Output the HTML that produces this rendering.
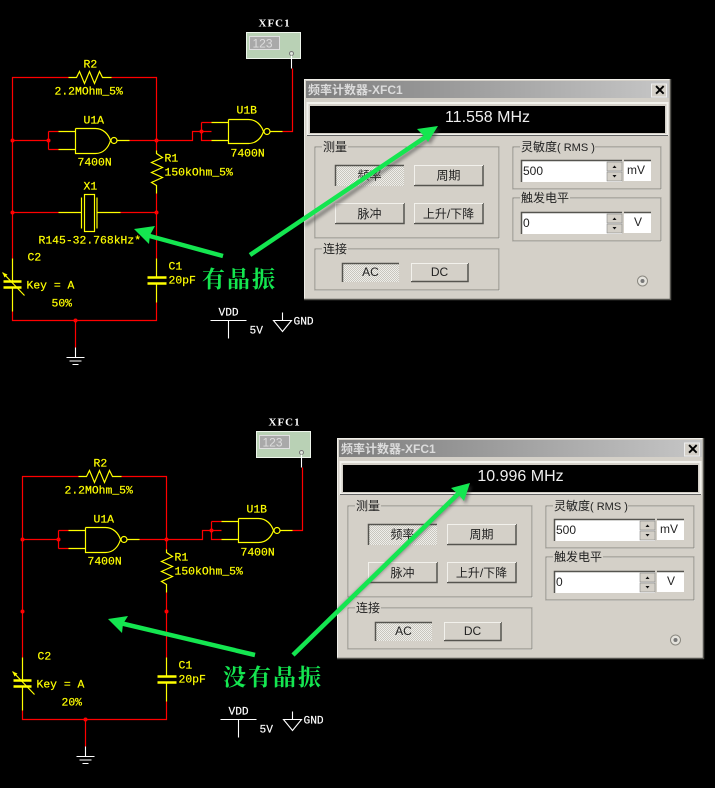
<!DOCTYPE html>
<html><head><meta charset="utf-8"><style>
html,body{margin:0;padding:0;background:#000;width:715px;height:788px;overflow:hidden}
svg{display:block}
.y{font:11.4px "Liberation Mono","Noto Sans CJK SC",monospace;fill:#ffff00;stroke:#ffff00;stroke-width:.2}
.w{font:11.2px "Liberation Mono",monospace;fill:#fff;stroke:#fff;stroke-width:.15}
.xf{font:bold 11px "Liberation Serif",serif;fill:#fff;letter-spacing:1px}
.r{fill:none;stroke:#ff0000;stroke-width:1.2}
.l{fill:none;stroke:#ffff00;stroke-width:1.2}
.lw{fill:none;stroke:#ffff00;stroke-width:2.4}
.wh{fill:none;stroke:#fff;stroke-width:1.1}
.p{font:12px "Liberation Sans","Noto Sans CJK SC",sans-serif;fill:#222}
.pb{font:12px "Liberation Sans","Noto Sans CJK SC",sans-serif;fill:#222}
.t{font:bold 12px "Liberation Sans","Noto Sans CJK SC",sans-serif;fill:#dcdcdc}
.cn{font:bold 23px "Noto Serif CJK SC","Liberation Serif",serif;fill:#14e650;letter-spacing:2px}
</style></head><body>
<svg width="715" height="788" viewBox="0 0 715 788" xmlns="http://www.w3.org/2000/svg">
<defs>
<linearGradient id="tb" x1="0" x2="1" y1="0" y2="0"><stop offset="0" stop-color="#7e7e7e"/><stop offset="1" stop-color="#c6c6c6"/></linearGradient>
<pattern id="dt" width="2" height="2" patternUnits="userSpaceOnUse"><rect width="2" height="2" fill="#efeeea"/><rect width="1" height="1" fill="#c8c6be"/><rect x="1" y="1" width="1" height="1" fill="#c8c6be"/></pattern>
<filter id="bl" x="-20%" y="-20%" width="140%" height="140%"><feGaussianBlur stdDeviation="1.5"/></filter>
</defs>
<rect width="715" height="788" fill="#000"/>

<!-- TOP CIRCUIT -->
<g transform="translate(.5,.5)">
<path class="r" d="M68 77H12V258M12 311V320H156V302M156 258V193M111 77H156V150M12 140H48M48 131V149M48 131H58M48 149H58M129 140H156H192V131H211M201 122H211M201 122V140H211M282 131H292V68M12 212H58M120 212H156M75 320V347"/>
<path class="l" d="M68 77H76L79 71L84 83L89 71L94 83L99 71L102 77H111M58 131H75M58 149H75M75 128V153H95C103 153 108 147 110 140C108 134 103 128 95 128H75M117 140H129M211 122H228M211 140H228M228 119V143H248C256 143 261 137 263 131C261 125 256 119 248 119H228M270 131H282M156 150V153L162 157L151 162L162 167L151 172L162 177L151 182L156 185V193M58 212H81M97 212H120M12 258V281M12 287V311M156 258V277M156 283V302M2 272L24 295"/>
<circle class="l" cx="113.5" cy="140" r="3"/><circle class="l" cx="266.5" cy="131" r="3"/>
<path class="l" d="M81 197V228M96.500 197V228"/><rect class="l" x="84" y="194" width="10" height="37"/>
<path class="lw" d="M3 281H21M3 287H21M147 277H166M147 283H166"/>
<path d="M2 272L7 274L4 277Z" fill="#ffff00"/>
<path class="wh" d="M75 347V357M66 357H84M69 360.500H81M72 364H78M210 320H246M228 320V338M282 312V320M273 320H291L282 331Z"/>
<g fill="#ff0000"><circle cx="12" cy="140" r="2"/><circle cx="48" cy="140" r="2"/><circle cx="156" cy="140" r="2"/><circle cx="201" cy="131" r="2"/><circle cx="12" cy="212" r="2"/><circle cx="156" cy="212" r="2"/><circle cx="75" cy="320" r="2"/></g>
<rect x="246" y="32" width="54" height="26" fill="#b9d1b5" stroke="#eef5ec"/>
<rect x="249" y="36" width="30" height="13" fill="#a9a9a9" stroke="#e0e0e0"/>
<text x="252" y="47" font-family="Liberation Sans,sans-serif" font-size="12" fill="#ddd">123</text>
<circle cx="291" cy="53" r="2" fill="#dfe8dd" stroke="#777"/>
<path class="wh" d="M291 55V68"/>
<text class="xf" x="258" y="26">XFC1</text>
<text class="y" x="83" y="67">R2</text><text class="y" x="54" y="94">2.2MOhm_5%</text>
<text class="y" x="83" y="123">U1A</text><text class="y" x="77" y="165">7400N</text>
<text class="y" x="164" y="161">R1</text><text class="y" x="164" y="175">150kOhm_5%</text>
<text class="y" x="83" y="189">X1</text><text class="y" x="38" y="243">R145-32.768kHz*</text>
<text class="y" x="27" y="260">C2</text><text class="y" x="26" y="288">Key = A</text><text class="y" x="51" y="306">50%</text>
<text class="y" x="168" y="269">C1</text><text class="y" x="168" y="283">20pF</text>
<text class="y" x="236" y="113">U1B</text><text class="y" x="230" y="156">7400N</text>
<text class="w" x="218" y="315">VDD</text><text class="w" x="249" y="333">5V</text><text class="w" x="293" y="324">GND</text>
</g>

<!-- BOTTOM CIRCUIT -->
<g transform="translate(10.5,399.5)">
<path class="r" d="M68 77H12V258M12 311V320H156V302M156 258V193M111 77H156V150M12 140H48M48 131V149M48 131H58M48 149H58M129 140H156H192V131H211M201 122H211M201 122V140H211M282 131H292V68M75 320V347"/>
<path class="l" d="M68 77H76L79 71L84 83L89 71L94 83L99 71L102 77H111M58 131H75M58 149H75M75 128V153H95C103 153 108 147 110 140C108 134 103 128 95 128H75M117 140H129M211 122H228M211 140H228M228 119V143H248C256 143 261 137 263 131C261 125 256 119 248 119H228M270 131H282M156 150V153L162 157L151 162L162 167L151 172L162 177L151 182L156 185V193M12 258V281M12 287V311M156 258V277M156 283V302M2 272L24 295"/>
<circle class="l" cx="113.5" cy="140" r="3"/><circle class="l" cx="266.5" cy="131" r="3"/>
<path class="lw" d="M3 281H21M3 287H21M147 277H166M147 283H166"/>
<path d="M2 272L7 274L4 277Z" fill="#ffff00"/>
<path class="wh" d="M75 347V357M66 357H84M69 360.500H81M72 364H78M210 320H246M228 320V338M282 312V320M273 320H291L282 331Z"/>
<g fill="#ff0000"><circle cx="12" cy="140" r="2"/><circle cx="48" cy="140" r="2"/><circle cx="156" cy="140" r="2"/><circle cx="201" cy="131" r="2"/><circle cx="12" cy="212" r="2"/><circle cx="156" cy="212" r="2"/><circle cx="75" cy="320" r="2"/></g>
<rect x="246" y="32" width="54" height="26" fill="#b9d1b5" stroke="#eef5ec"/>
<rect x="249" y="36" width="30" height="13" fill="#a9a9a9" stroke="#e0e0e0"/>
<text x="252" y="47" font-family="Liberation Sans,sans-serif" font-size="12" fill="#ddd">123</text>
<circle cx="291" cy="53" r="2" fill="#dfe8dd" stroke="#777"/>
<path class="wh" d="M291 55V68"/>
<text class="xf" x="258" y="26">XFC1</text>
<text class="y" x="83" y="67">R2</text><text class="y" x="54" y="94">2.2MOhm_5%</text>
<text class="y" x="83" y="123">U1A</text><text class="y" x="77" y="165">7400N</text>
<text class="y" x="164" y="161">R1</text><text class="y" x="164" y="175">150kOhm_5%</text>
<text class="y" x="27" y="260">C2</text><text class="y" x="26" y="288">Key = A</text><text class="y" x="51" y="306">20%</text>
<text class="y" x="168" y="269">C1</text><text class="y" x="168" y="283">20pF</text>
<text class="y" x="236" y="113">U1B</text><text class="y" x="230" y="156">7400N</text>
<text class="w" x="218" y="315">VDD</text><text class="w" x="249" y="333">5V</text><text class="w" x="293" y="324">GND</text>
</g>

<!-- TOP PANEL -->
<g>
<rect x="304" y="79" width="367" height="221" fill="#d4d0c8"/>
<path d="M304.500 300V79.500H671" fill="none" stroke="#f0efe9"/><path d="M304 299.500H670.500V79" fill="none" stroke="#55544f" stroke-width="1.500"/>
<rect x="306" y="81" width="363" height="17" fill="url(#tb)"/>
<text class="t" x="308" y="94">频率计数器-XFC1</text>
<rect x="651.500" y="84" width="15" height="13" fill="#d4d0c8" stroke="#eee"/><text x="654" y="95" font-family="Liberation Sans,sans-serif" font-size="14" font-weight="bold" fill="#000">✕</text>
<rect x="307.500" y="103" width="360" height="32" fill="#d4d0c8" stroke="#f2f1ec" stroke-width="2"/>
<path d="M307 135.500H668" stroke="#666" fill="none"/>
<rect x="310" y="106" width="355" height="27" fill="#000"/>
<text x="487.500" y="122" text-anchor="middle" font-family="Liberation Sans,sans-serif" font-size="16" fill="#eee">11.558 MHz</text>
<rect x="315.500" y="147.500" width="184" height="91" fill="none" stroke="#f2f1ec"/><rect x="315" y="147" width="184" height="91" fill="none" stroke="#8a8880"/>
<rect x="322" y="142" width="26" height="10" fill="#d4d0c8"/><text class="pb" x="323" y="151">测量</text>
<rect x="315.500" y="249.500" width="184" height="41" fill="none" stroke="#f2f1ec"/><rect x="315" y="249" width="184" height="41" fill="none" stroke="#8a8880"/>
<rect x="322" y="244" width="26" height="10" fill="#d4d0c8"/><text class="pb" x="323" y="253">连接</text>
<rect x="513.500" y="147.500" width="148" height="42" fill="none" stroke="#f2f1ec"/><rect x="513" y="147" width="148" height="42" fill="none" stroke="#8a8880"/>
<rect x="520" y="142" width="75" height="10" fill="#d4d0c8"/><text class="pb" x="521" y="151">灵敏度<tspan font-size="11">( RMS )</tspan></text>
<rect x="513.500" y="198.500" width="148" height="43" fill="none" stroke="#f2f1ec"/><rect x="513" y="198" width="148" height="43" fill="none" stroke="#8a8880"/>
<rect x="520" y="193" width="50" height="10" fill="#d4d0c8"/><text class="pb" x="521" y="202">触发电平</text>
<rect x="335" y="165" width="69" height="21" fill="url(#dt)"/><path d="M335.500 186V165.500H404" fill="none" stroke="#55544f" stroke-width="1.500"/>
<text class="pb" x="369.500" y="179.500" text-anchor="middle">频率</text>
<rect x="414" y="165" width="69" height="21" fill="#d4d0c8"/><path d="M414 185.500H483V165" fill="none" stroke="#55544f" stroke-width="1.500"/><path d="M414.500 185V165.500H483" fill="none" stroke="#f2f1ec"/>
<text class="pb" x="448.500" y="179.500" text-anchor="middle">周期</text>
<rect x="335" y="203" width="69" height="21" fill="#d4d0c8"/><path d="M335 223.500H404V203" fill="none" stroke="#55544f" stroke-width="1.500"/><path d="M335.500 223V203.500H404" fill="none" stroke="#f2f1ec"/>
<text class="pb" x="369.500" y="218" text-anchor="middle">脉冲</text>
<rect x="414" y="203" width="69" height="21" fill="#d4d0c8"/><path d="M414 223.500H483V203" fill="none" stroke="#55544f" stroke-width="1.500"/><path d="M414.500 223V203.500H483" fill="none" stroke="#f2f1ec"/>
<text class="pb" x="448.500" y="218" text-anchor="middle">上升/下降</text>
<rect x="342" y="263" width="57" height="19" fill="url(#dt)"/><path d="M342.500 282V263.500H399" fill="none" stroke="#55544f" stroke-width="1.500"/>
<text class="p" x="370.500" y="276" text-anchor="middle">AC</text>
<rect x="411" y="263" width="57" height="19" fill="#d4d0c8"/><path d="M411 281.500H468V263" fill="none" stroke="#55544f" stroke-width="1.500"/><path d="M411.500 281V263.500H468" fill="none" stroke="#f2f1ec"/>
<text class="p" x="439.500" y="276" text-anchor="middle">DC</text>
<rect x="521" y="160" width="101" height="22" fill="#fff"/><path d="M521.500 182V160.500H622" fill="none" stroke="#55544f" stroke-width="1.500"/>
<rect x="607" y="162" width="15" height="9" fill="#d4d0c8" stroke="#777" stroke-width=".5"/><rect x="607" y="172" width="15" height="9" fill="#d4d0c8" stroke="#777" stroke-width=".5"/>
<path d="M612.500 168L614.500 165.500L616.500 168ZM612.500 175L614.500 177.500L616.500 175Z" fill="#111"/>
<text class="p" x="523" y="175">500</text>
<rect x="624" y="160" width="27" height="21" fill="#fff"/><path d="M624 160.500H651" stroke="#55544f" stroke-width="1.500"/><text class="p" x="627" y="174">mV</text>
<rect x="521" y="212" width="101" height="22" fill="#fff"/><path d="M521.500 234V212.500H622" fill="none" stroke="#55544f" stroke-width="1.500"/>
<rect x="607" y="214" width="15" height="9" fill="#d4d0c8" stroke="#777" stroke-width=".5"/><rect x="607" y="224" width="15" height="9" fill="#d4d0c8" stroke="#777" stroke-width=".5"/>
<path d="M612.500 220L614.500 217.500L616.500 220ZM612.500 227L614.500 229.500L616.500 227Z" fill="#111"/>
<text class="p" x="523" y="227">0</text>
<rect x="624" y="212" width="27" height="21" fill="#fff"/><path d="M624 212.500H651" stroke="#55544f" stroke-width="1.500"/><text class="p" x="634" y="226">V</text>
<circle cx="642.500" cy="281" r="5" fill="#e4e2dc" stroke="#8a8880"/><circle cx="642.500" cy="281" r="2" fill="#777"/>
</g>

<!-- BOTTOM PANEL -->
<g transform="translate(33,359)">
<rect x="304" y="79" width="367" height="221" fill="#d4d0c8"/>
<path d="M304.500 300V79.500H671" fill="none" stroke="#f0efe9"/><path d="M304 299.500H670.500V79" fill="none" stroke="#55544f" stroke-width="1.500"/>
<rect x="306" y="81" width="363" height="17" fill="url(#tb)"/>
<text class="t" x="308" y="94">频率计数器-XFC1</text>
<rect x="651.500" y="84" width="15" height="13" fill="#d4d0c8" stroke="#eee"/><text x="654" y="95" font-family="Liberation Sans,sans-serif" font-size="14" font-weight="bold" fill="#000">✕</text>
<rect x="307.500" y="103" width="360" height="32" fill="#d4d0c8" stroke="#f2f1ec" stroke-width="2"/>
<path d="M307 135.500H668" stroke="#666" fill="none"/>
<rect x="310" y="106" width="355" height="27" fill="#000"/>
<text x="487.500" y="122" text-anchor="middle" font-family="Liberation Sans,sans-serif" font-size="16" fill="#eee">10.996 MHz</text>
<rect x="315.500" y="147.500" width="184" height="91" fill="none" stroke="#f2f1ec"/><rect x="315" y="147" width="184" height="91" fill="none" stroke="#8a8880"/>
<rect x="322" y="142" width="26" height="10" fill="#d4d0c8"/><text class="pb" x="323" y="151">测量</text>
<rect x="315.500" y="249.500" width="184" height="41" fill="none" stroke="#f2f1ec"/><rect x="315" y="249" width="184" height="41" fill="none" stroke="#8a8880"/>
<rect x="322" y="244" width="26" height="10" fill="#d4d0c8"/><text class="pb" x="323" y="253">连接</text>
<rect x="513.500" y="147.500" width="148" height="42" fill="none" stroke="#f2f1ec"/><rect x="513" y="147" width="148" height="42" fill="none" stroke="#8a8880"/>
<rect x="520" y="142" width="75" height="10" fill="#d4d0c8"/><text class="pb" x="521" y="151">灵敏度<tspan font-size="11">( RMS )</tspan></text>
<rect x="513.500" y="198.500" width="148" height="43" fill="none" stroke="#f2f1ec"/><rect x="513" y="198" width="148" height="43" fill="none" stroke="#8a8880"/>
<rect x="520" y="193" width="50" height="10" fill="#d4d0c8"/><text class="pb" x="521" y="202">触发电平</text>
<rect x="335" y="165" width="69" height="21" fill="url(#dt)"/><path d="M335.500 186V165.500H404" fill="none" stroke="#55544f" stroke-width="1.500"/>
<text class="pb" x="369.500" y="179.500" text-anchor="middle">频率</text>
<rect x="414" y="165" width="69" height="21" fill="#d4d0c8"/><path d="M414 185.500H483V165" fill="none" stroke="#55544f" stroke-width="1.500"/><path d="M414.500 185V165.500H483" fill="none" stroke="#f2f1ec"/>
<text class="pb" x="448.500" y="179.500" text-anchor="middle">周期</text>
<rect x="335" y="203" width="69" height="21" fill="#d4d0c8"/><path d="M335 223.500H404V203" fill="none" stroke="#55544f" stroke-width="1.500"/><path d="M335.500 223V203.500H404" fill="none" stroke="#f2f1ec"/>
<text class="pb" x="369.500" y="218" text-anchor="middle">脉冲</text>
<rect x="414" y="203" width="69" height="21" fill="#d4d0c8"/><path d="M414 223.500H483V203" fill="none" stroke="#55544f" stroke-width="1.500"/><path d="M414.500 223V203.500H483" fill="none" stroke="#f2f1ec"/>
<text class="pb" x="448.500" y="218" text-anchor="middle">上升/下降</text>
<rect x="342" y="263" width="57" height="19" fill="url(#dt)"/><path d="M342.500 282V263.500H399" fill="none" stroke="#55544f" stroke-width="1.500"/>
<text class="p" x="370.500" y="276" text-anchor="middle">AC</text>
<rect x="411" y="263" width="57" height="19" fill="#d4d0c8"/><path d="M411 281.500H468V263" fill="none" stroke="#55544f" stroke-width="1.500"/><path d="M411.500 281V263.500H468" fill="none" stroke="#f2f1ec"/>
<text class="p" x="439.500" y="276" text-anchor="middle">DC</text>
<rect x="521" y="160" width="101" height="22" fill="#fff"/><path d="M521.500 182V160.500H622" fill="none" stroke="#55544f" stroke-width="1.500"/>
<rect x="607" y="162" width="15" height="9" fill="#d4d0c8" stroke="#777" stroke-width=".5"/><rect x="607" y="172" width="15" height="9" fill="#d4d0c8" stroke="#777" stroke-width=".5"/>
<path d="M612.500 168L614.500 165.500L616.500 168ZM612.500 175L614.500 177.500L616.500 175Z" fill="#111"/>
<text class="p" x="523" y="175">500</text>
<rect x="624" y="160" width="27" height="21" fill="#fff"/><path d="M624 160.500H651" stroke="#55544f" stroke-width="1.500"/><text class="p" x="627" y="174">mV</text>
<rect x="521" y="212" width="101" height="22" fill="#fff"/><path d="M521.500 234V212.500H622" fill="none" stroke="#55544f" stroke-width="1.500"/>
<rect x="607" y="214" width="15" height="9" fill="#d4d0c8" stroke="#777" stroke-width=".5"/><rect x="607" y="224" width="15" height="9" fill="#d4d0c8" stroke="#777" stroke-width=".5"/>
<path d="M612.500 220L614.500 217.500L616.500 220ZM612.500 227L614.500 229.500L616.500 227Z" fill="#111"/>
<text class="p" x="523" y="227">0</text>
<rect x="624" y="212" width="27" height="21" fill="#fff"/><path d="M624 212.500H651" stroke="#55544f" stroke-width="1.500"/><text class="p" x="634" y="226">V</text>
<circle cx="642.500" cy="281" r="5" fill="#e4e2dc" stroke="#8a8880"/><circle cx="642.500" cy="281" r="2" fill="#777"/>
</g>

<!-- ARROW SHADOWS -->
<g filter="url(#bl)" opacity=".55">
<path d="M303 222L427 136" stroke="#444" stroke-width="4" fill="none" transform="translate(2,3)"/>
<path d="M438 126L417 129L425 135L428 142Z" fill="#444" transform="translate(2,3)"/>
<path d="M336 608L458 492" stroke="#444" stroke-width="4" fill="none" transform="translate(2,3)"/>
<path d="M470 483L451 488L459 494L464 501Z" fill="#444" transform="translate(2,3)"/>
</g>

<!-- GREEN ARROWS -->
<g fill="#14e650" stroke="none">
<path d="M223 256L146 235" stroke="#14e650" stroke-width="4.500" fill="none"/>
<path d="M134 229L155 226L150 235L149 244Z"/>
<path d="M250 255L427 136" stroke="#14e650" stroke-width="4.500" fill="none"/>
<path d="M438 126L417 129L423 135L428 142Z"/>
<path d="M255 655L120 623" stroke="#14e650" stroke-width="4.500" fill="none"/>
<path d="M108 619L128 616L123 624L122 633Z"/>
<path d="M293 655L458 494" stroke="#14e650" stroke-width="4.500" fill="none"/>
<path d="M470 483L451 488L458 494L464 501Z"/>
</g>
<text class="cn" x="202" y="287">有晶振</text>
<text class="cn" x="223" y="685">没有晶振</text>
</svg>
</body></html>
